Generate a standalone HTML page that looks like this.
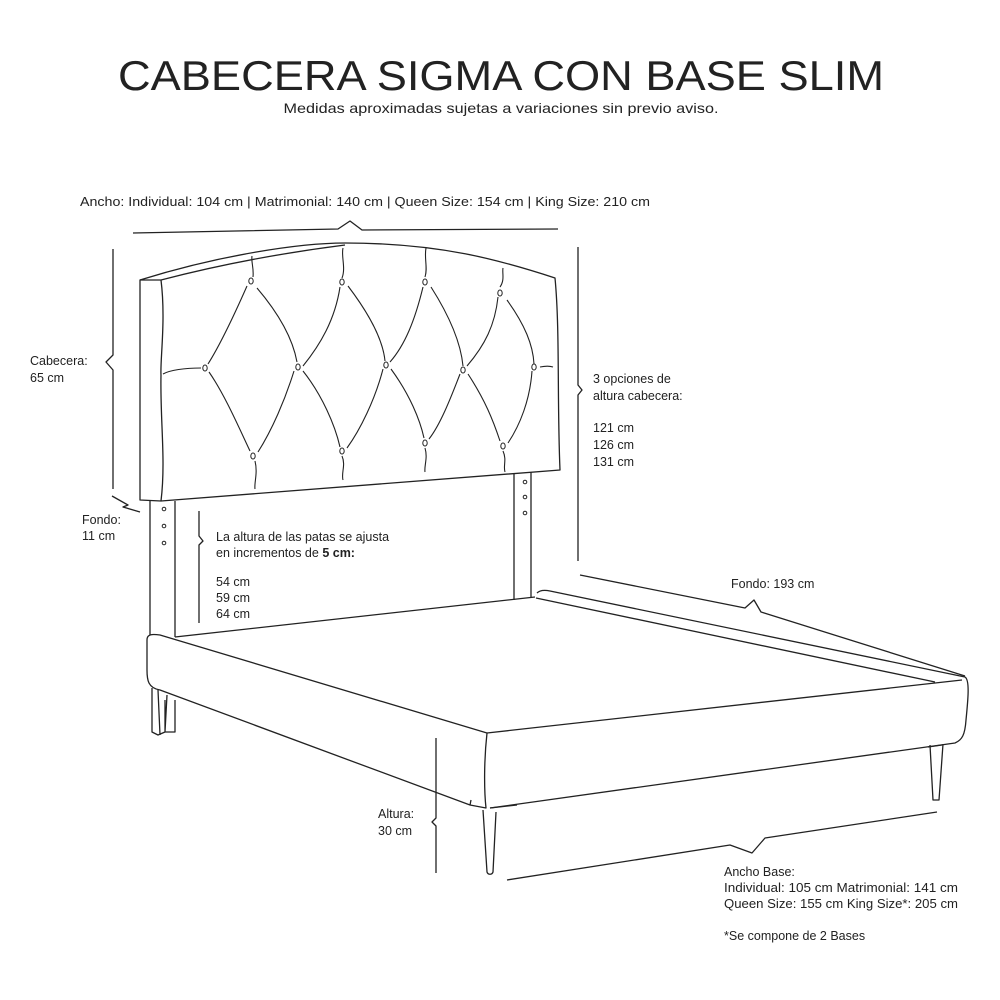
<!DOCTYPE html>
<html><head><meta charset="utf-8"><style>
html,body{margin:0;padding:0;background:#fff;}
svg{display:block;}
text{font-family:"Liberation Sans",sans-serif;fill:#222;}
</style></head><body>
<svg width="1000" height="1000" viewBox="0 0 1000 1000" xmlns="http://www.w3.org/2000/svg">
<text x="501" y="90" font-size="42" text-anchor="middle" textLength="766" lengthAdjust="spacingAndGlyphs" fill="#111" style="font-weight:300">CABECERA SIGMA CON BASE SLIM</text>
<text x="501" y="113" font-size="14" text-anchor="middle" textLength="435" lengthAdjust="spacingAndGlyphs">Medidas aproximadas sujetas a variaciones sin previo aviso.</text>

<g font-size="12.5">
<text x="80" y="206" textLength="570" lengthAdjust="spacingAndGlyphs">Ancho: Individual: 104 cm | Matrimonial: 140 cm | Queen Size: 154 cm | King Size: 210 cm</text>
<text x="30" y="365">Cabecera:</text><text x="30" y="382">65 cm</text>
<text x="82" y="524">Fondo:</text><text x="82" y="540">11 cm</text>
<text x="216" y="541">La altura de las patas se ajusta</text>
<text x="216" y="557">en incrementos de <tspan font-weight="bold">5 cm:</tspan></text>
<text x="216" y="586">54 cm</text><text x="216" y="602">59 cm</text><text x="216" y="618">64 cm</text>
<text x="593" y="383">3 opciones de</text><text x="593" y="400">altura cabecera:</text>
<text x="593" y="432">121 cm</text><text x="593" y="449">126 cm</text><text x="593" y="466">131 cm</text>
<text x="731" y="588">Fondo: 193 cm</text>
<text x="378" y="818">Altura:</text><text x="378" y="835">30 cm</text>
<text x="724" y="876">Ancho Base:</text>
<text x="724" y="892" textLength="234" lengthAdjust="spacingAndGlyphs">Individual: 105 cm Matrimonial: 141 cm</text>
<text x="724" y="908" textLength="234" lengthAdjust="spacingAndGlyphs">Queen Size: 155 cm King Size*: 205 cm</text>
<text x="724" y="940">*Se compone de 2 Bases</text>
</g>

<g fill="none" stroke="#222" stroke-width="1.3" stroke-linejoin="round">
<path d="M133,233 L338,229 L350,221 L362,230 L558,229"/>
<path d="M113,249 L113,355 L106,362 L113,370 L113,489 M112,496 L128,505 L123,507 L140,512"/>
<path d="M578,247 L578,385 L582,390 L578,395 L578,561"/>
<path d="M580,575 L745,608 L754,600 L761,612 L965,676"/>
<path d="M436,738 L436,818 L432,822 L436,826 L436,873"/>
<path d="M507,880 L730,845 L752,853 L765,838 L937,812"/>
<path d="M199,511 L199,536 L203,541 L199,545 L199,623"/>

<path d="M140,280 C220,255 300,243 345,243 C440,243 500,260 555,278 C560,330 557,400 560,470 L161,501 L140,500 Z"/>
<path d="M140,280 L161,280 C230,262 290,252 345,245 M161,280 C166,320 160,360 161,375 C160,420 166,460 161,501"/>
<g stroke-width="1.1">
<path d="M253,277 C254,268 251,262 252,256 M247,286 C232,320 220,345 208,364 M257,288 C280,315 293,340 297,362"/>
<path d="M342,278 C346,268 341,256 343,248 M340,287 C335,320 320,345 303,366 M348,286 C370,315 383,340 385,361"/>
<path d="M425,277 C428,268 424,258 426,248 M423,287 C415,320 405,345 390,362 M431,287 C452,320 461,345 463,366"/>
<path d="M500,287 C505,280 502,273 503,268 M498,297 C495,325 485,345 467,366 M507,300 C525,325 533,345 534,364"/>
<path d="M201,368 C185,368 170,370 163,374 M540,367 C545,366 550,366 553,367"/>
<path d="M209,372 C225,395 240,430 250,451 M294,371 C285,400 272,430 258,452 M303,371 C322,395 335,425 340,447 M383,369 C375,400 360,430 347,448 M391,369 C410,395 420,420 424,438 M460,374 C450,400 440,425 429,439 M468,374 C485,400 493,420 500,441 M532,371 C530,400 520,425 508,443"/>
<path d="M255,461 C258,473 254,483 255,489 M342,456 C346,465 341,473 343,480 M425,448 C428,458 424,466 425,472 M503,451 C507,460 503,466 505,472"/>
</g>
<g stroke-width="1"><ellipse cx="251" cy="281" rx="2.2" ry="3"/><ellipse cx="342" cy="282" rx="2.2" ry="3"/><ellipse cx="425" cy="282" rx="2.2" ry="3"/><ellipse cx="500" cy="293" rx="2.2" ry="3"/>
<ellipse cx="205" cy="368" rx="2.2" ry="3"/><ellipse cx="298" cy="367" rx="2.2" ry="3"/><ellipse cx="386" cy="365" rx="2.2" ry="3"/><ellipse cx="463" cy="370" rx="2.2" ry="3"/><ellipse cx="534" cy="367" rx="2.2" ry="3"/>
<ellipse cx="253" cy="456" rx="2.2" ry="3"/><ellipse cx="342" cy="451" rx="2.2" ry="3"/><ellipse cx="425" cy="443" rx="2.2" ry="3"/><ellipse cx="503" cy="446" rx="2.2" ry="3"/>
<circle cx="164" cy="509" r="1.8"/><circle cx="164" cy="526" r="1.8"/><circle cx="164" cy="543" r="1.8"/>
<circle cx="525" cy="482" r="1.8"/><circle cx="525" cy="497" r="1.8"/><circle cx="525" cy="513" r="1.8"/></g>
<path d="M150,501 L150,635 M175,501 L175,637 M514,473 L514,600 M531,472 L531,598"/>
<path d="M152,688 L152,732 L158,735 L165,732 L167,695 M158,690 L160,735 M165,700 L165,732 L175,732 L175,700"/>

<path d="M175,637 L535,597"/>
<path d="M147,640 C147,634 152,634 160,635 L487,733 C484,760 484,790 486,808 L470,805 L160,690 C148,688 147,680 147,670 Z"/>
<path d="M487,733 L962,680"/>
<path d="M537,593 C540,590 545,590 550,591 L965,677 C970,680 968,700 966,720 C965,735 962,740 955,743 L490,808"/>
<path d="M536,598 L935,682"/>
<path d="M470,805 L471,800 M490,808 L517,805"/>
<path d="M483,810 L487,872 C488,875 492,875 493,872 L496,812"/>
<path d="M930,745 L933,800 L939,800 L943,744"/>
<path d="M928,747 L942,745"/>
</g>
</svg>
</body></html>
